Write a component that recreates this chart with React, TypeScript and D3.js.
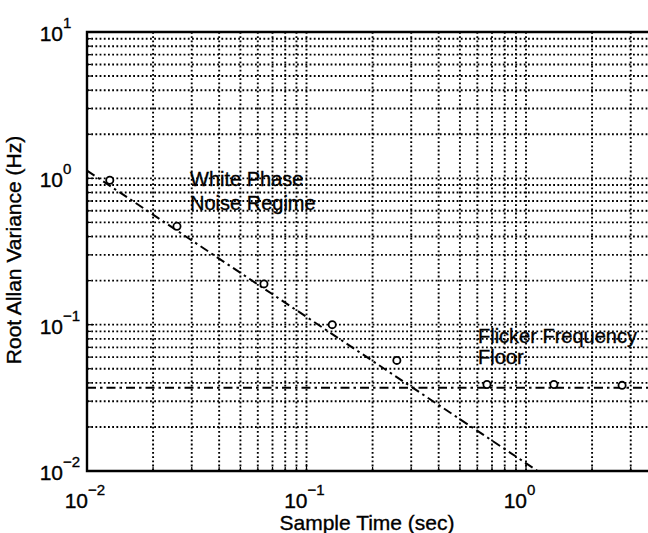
import { useEffect, useRef } from "react";
import * as d3 from "d3";

// measured points (tau in sec, root Allan variance in Hz)
const whiteTau = [0.0127, 0.0257, 0.064, 0.131, 0.258];
const whiteVals = [0.97, 0.47, 0.19, 0.1, 0.057];
const floorTau = [0.664, 1.34, 2.74];
const floorVals = [0.039, 0.039, 0.0385];

// fitted regime lines
const whiteLineTau = [0.01, 1.13];
const whiteLineVals = [1.13, 0.01];
const floorLineTau = [0.01, 10];
const floorLineVals = [0.037, 0.037];

const decadeExps = [-2, -1, 0, 1];

export default function App() {
  const svgRef = useRef<SVGSVGElement>(null);

  useEffect(() => {
    const left = 87, top = 32, bottom = 471;
    const decW = 219.5;
    const font = "'Liberation Sans', Arial, Helvetica, sans-serif";

    const svg = d3.select(svgRef.current);
    svg.selectAll("*").remove();

    const x = d3.scaleLog().domain([0.01, 10]).range([left, left + 3 * decW]);
    const y = d3.scaleLog().domain([0.01, 10]).range([bottom, top]);

    svg.append("rect").attr("width", 648).attr("height", 533).attr("fill", "white");

    // grid values: 1..9 in each decade
    const gridVals: number[] = [];
    for (let e = -2; e <= 0; e++) {
      for (let m = 1; m <= 9; m++) gridVals.push(m * Math.pow(10, e));
    }
    gridVals.push(10);

    const grid = svg.append("g")
      .attr("stroke", "#000")
      .attr("stroke-width", 1.9)
      .attr("stroke-dasharray", "1.8 2.4")
      .attr("fill", "none");

    grid.selectAll(".vg")
      .data(gridVals.filter(v => v > 0.01))
      .join("line")
      .attr("x1", d => x(d)).attr("x2", d => x(d))
      .attr("y1", top).attr("y2", bottom);

    grid.selectAll(".hg")
      .data(gridVals.filter(v => v > 0.01 && v < 10))
      .join("line")
      .attr("x1", left).attr("x2", x(10))
      .attr("y1", d => y(d)).attr("y2", d => y(d));

    // small ticks inside the axes
    const ticks = svg.append("g").attr("stroke", "#000").attr("stroke-width", 1.2);
    ticks.selectAll(".xt")
      .data(gridVals)
      .join("line")
      .attr("x1", d => x(d)).attr("x2", d => x(d))
      .attr("y1", bottom).attr("y2", d => bottom - (Number.isInteger(Math.log10(d)) ? 7 : 4));
    ticks.selectAll(".yt")
      .data(gridVals)
      .join("line")
      .attr("x1", left).attr("x2", d => left + (Number.isInteger(Math.log10(d)) ? 7 : 4))
      .attr("y1", d => y(d)).attr("y2", d => y(d));

    // axes box (left, bottom, top)
    svg.append("path")
      .attr("d", `M${x(10)},${top}H${left}V${bottom}H${x(10)}`)
      .attr("fill", "none")
      .attr("stroke", "#000")
      .attr("stroke-width", 2.4);

    const line = d3.line<[number, number]>()
      .x(d => x(d[0]))
      .y(d => y(d[1]));

    [d3.zip(whiteLineTau, whiteLineVals), d3.zip(floorLineTau, floorLineVals)].forEach(seg => {
      svg.append("path")
        .datum(seg as [number, number][])
        .attr("d", line)
        .attr("fill", "none")
        .attr("stroke", "#000")
        .attr("stroke-width", 2)
        .attr("stroke-dasharray", "9 4 2.5 4");
    });

    const pts = d3.zip(whiteTau.concat(floorTau), whiteVals.concat(floorVals));
    svg.selectAll(".pt")
      .data(pts)
      .join("circle")
      .attr("cx", d => x(d[0]))
      .attr("cy", d => y(d[1]))
      .attr("r", 3.6)
      .attr("fill", "white")
      .attr("stroke", "#000")
      .attr("stroke-width", 1.8);

    const txt = (sel: d3.Selection<SVGTextElement, any, any, any>, size: number) =>
      sel.attr("font-family", font)
        .attr("font-size", size)
        .attr("stroke", "#000")
        .attr("stroke-width", 0.35);

    // tick labels 10^n
    decadeExps.forEach(e => {
      const yy = y(Math.pow(10, e));
      txt(svg.append("text"), 21)
        .attr("x", 63).attr("y", yy + 9)
        .attr("text-anchor", "end")
        .text("10");
      txt(svg.append("text"), 15)
        .attr("x", 63).attr("y", yy - 4)
        .text(e < 0 ? "\u2212" + (-e) : String(e));
    });

    decadeExps.filter(e => x(Math.pow(10, e)) < 648).forEach(e => {
      const xx = x(Math.pow(10, e));
      txt(svg.append("text"), 21)
        .attr("x", xx + 1).attr("y", 508)
        .attr("text-anchor", "end")
        .text("10");
      txt(svg.append("text"), 15)
        .attr("x", xx + 1).attr("y", 495)
        .text(e < 0 ? "\u2212" + (-e) : String(e));
    });

    // axis titles
    txt(svg.append("text"), 21)
      .attr("x", 367).attr("y", 530)
      .attr("text-anchor", "middle")
      .text("Sample Time (sec)");

    txt(svg.append("text"), 21)
      .attr("transform", "translate(21,250) rotate(-90)")
      .attr("text-anchor", "middle")
      .text("Root Allan Variance (Hz)");

    // annotations
    const notes = [
      { t: "White Phase", x: 190, y: 186 },
      { t: "Noise Regime", x: 190, y: 210 },
      { t: "Flicker Frequency", x: 478, y: 343 },
      { t: "Floor", x: 478, y: 364 },
    ];
    notes.forEach(n => {
      txt(svg.append("text"), 20)
        .attr("x", n.x).attr("y", n.y)
        .text(n.t);
    });
  }, []);

  return (
    <svg
      ref={svgRef}
      width={648}
      height={533}
      style={{ position: "absolute", left: 0, top: 0 }}
    ></svg>
  );
}
